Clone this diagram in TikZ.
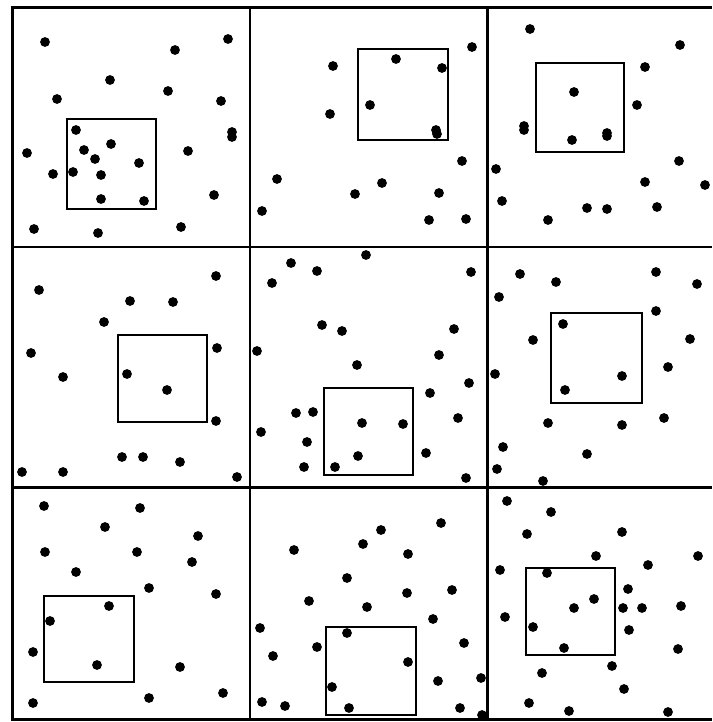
\documentclass[tikz,border=0pt]{standalone}
\usepackage{tikz}
\tikzset{
  gridline/.style={black,line width=2.6pt},
  quadrat/.style={draw=black,line width=1.8pt},
  pt/.style={fill=black},
}
\begin{document}
\begin{tikzpicture}[x=0.035cm,y=-0.035cm]
  \useasboundingbox (0,0) rectangle (712,722);
  \fill[white] (0,0) rectangle (712,722);
  % grid of panels
  \draw[gridline] (12.5,7.5) -- (712,7.5);
  \draw[gridline] (12.5,719.5) -- (712,719.5);
  \draw[gridline] (12.5,6.5) -- (12.5,720.5);
  \draw[gridline] (250,7.5) -- (250,719.5);
  \draw[gridline] (487.5,7.5) -- (487.5,719.5);
  \draw[gridline] (12.5,247) -- (712,247);
  \draw[gridline] (12.5,487.5) -- (712,487.5);
  % sampling squares
  \draw[quadrat] (67,119) rectangle (156,209);
  \draw[quadrat] (358,49) rectangle (448,140);
  \draw[quadrat] (536,63) rectangle (624,152);
  \draw[quadrat] (118,335) rectangle (207,422);
  \draw[quadrat] (324,388) rectangle (413,475);
  \draw[quadrat] (551,313) rectangle (642,403);
  \draw[quadrat] (44,596) rectangle (134,682);
  \draw[quadrat] (326,627) rectangle (416,715);
  \draw[quadrat] (526,568) rectangle (615,655);
  % points, top row
  \foreach \x/\y in {45/42,175/50,228/39,110/80,168/91,57/99,221/101,76/130,
      232/132,232/137,27/153,84/150,111/144,188/151,95/159,139/163,53/174,
      73/172,101/175,101/199,144/201,214/195,34/229,98/233,181/227}
    \fill[pt] (\x,\y) circle (4.9);
  \foreach \x/\y in {472/47,396/59,442/68,333/66,370/105,330/114,436/130,
      437/134,462/161,277/179,382/183,355/194,439/193,262/211,429/220,466/219}
    \fill[pt] (\x,\y) circle (4.9);
  \foreach \x/\y in {530/29,680/45,645/67,574/92,637/105,524/126,524/130,
      572/140,607/133,607/136,679/161,496/169,645/182,705/185,502/201,
      587/208,607/209,657/207,548/220}
    \fill[pt] (\x,\y) circle (4.9);
  % points, middle row
  \foreach \x/\y in {216/276,39/290,130/301,173/302,104/322,217/348,31/353,
      63/377,127/374,167/390,216/421,122/457,143/457,180/462,22/472,63/472,
      237/477}
    \fill[pt] (\x,\y) circle (4.9);
  \foreach \x/\y in {366/255,291/263,317/271,471/272,272/283,322/325,342/331,
      454/329,257/351,439/355,357/365,469/383,430/393,296/413,313/412,
      362/423,403/424,458/418,261/432,307/442,358/456,426/453,304/467,
      335/467,466/478}
    \fill[pt] (\x,\y) circle (4.9);
  \foreach \x/\y in {520/274,556/282,656/272,697/284,499/297,656/311,563/324,
      533/340,690/339,495/374,668/367,622/376,565/390,548/423,622/425,
      664/418,503/447,587/454,497/469,543/481}
    \fill[pt] (\x,\y) circle (4.9);
  % points, bottom row
  \foreach \x/\y in {44/506,140/508,105/527,198/536,45/552,137/552,192/562,
      76/572,149/588,216/594,109/606,50/621,33/652,97/665,180/667,223/693,
      149/698,33/703}
    \fill[pt] (\x,\y) circle (4.9);
  \foreach \x/\y in {441/523,381/530,294/550,363/544,408/554,347/578,407/593,
      452/590,309/601,367/607,433/619,260/628,347/633,317/647,464/643,
      273/656,408/662,438/681,481/678,332/687,262/702,285/706,349/708,
      460/708,482/715}
    \fill[pt] (\x,\y) circle (4.9);
  \foreach \x/\y in {507/501,551/512,527/534,622/532,596/556,698/556,500/570,
      648/565,547/573,628/589,594/599,574/608,623/608,642/608,681/606,
      505/617,533/627,629/630,678/649,564/648,612/666,542/673,624/689,
      529/703,569/711,668/712}
    \fill[pt] (\x,\y) circle (4.9);
\end{tikzpicture}
\end{document}
